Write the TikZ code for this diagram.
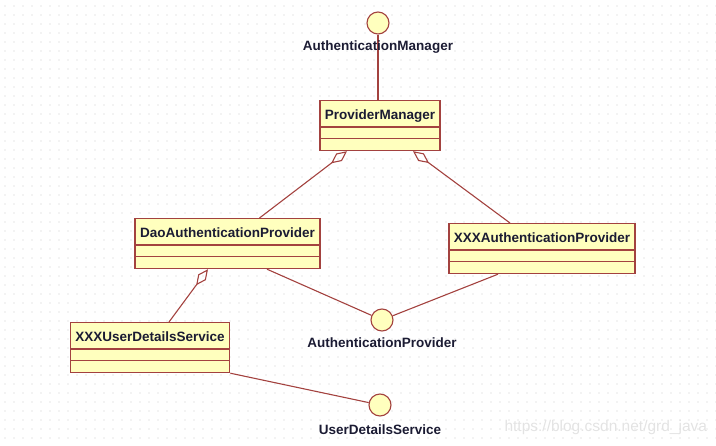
\documentclass[tikz,border=0pt]{standalone}
\usepackage{fontspec}
\setmainfont{Liberation Sans}
\usetikzlibrary{arrows.meta,shapes.multipart,positioning}
\definecolor{umlrot}{HTML}{A3423F}
\definecolor{umlgelb}{HTML}{FFFFBE}
\definecolor{umltext}{HTML}{1B1B33}
\definecolor{rasterpunkt}{HTML}{CACACA}
\newcommand{\klassenname}[1]{\rule[-7pt]{0pt}{25pt}#1\nodepart{two}\rule{0pt}{10.5pt}\nodepart{three}\rule{0pt}{10.5pt}}
\tikzset{
	klasse/.style={rectangle split, rectangle split parts=3, draw=umlrot, line width=1.3pt, fill=umlgelb, inner xsep=5pt, inner ysep=0pt, text=umltext, font=\fontsize{13.5}{16}\selectfont\bfseries},
	schnittstelle/.style={circle, draw=umlrot, line width=1.1pt, fill=umlgelb, minimum size=22pt, inner sep=0pt},
	iname/.style={text=umltext, font=\fontsize{13.5}{16}\selectfont\bfseries},
	verbindung/.style={draw=umlrot, line width=1.1pt},
	aggregation/.style={verbindung, {Diamond[open, length=20pt, width=9.5pt]}-}
}
\begin{document}
\begin{tikzpicture}[x=1pt, y=-1pt]
\useasboundingbox (0,0) rectangle (716,446);
% Raster zeichnen
\foreach \x in {5,14,...,716}
	\foreach \y in {6,15,...,446}
		\fill[rasterpunkt] (\x,\y) circle (0.7);

% Schnittstellen
\node[schnittstelle] (am) at (378,23) {};
\node[schnittstelle] (ap) at (382,320) {};
\node[schnittstelle] (uds) at (380,405) {};

% Klassen zeichnen
\node[klasse, anchor=north] (pm) at (380,100) {\klassenname{ProviderManager}};
\node[klasse, anchor=north] (dao) at (227.5,218) {\klassenname{DaoAuthenticationProvider}};
\node[klasse, anchor=north] (xap) at (542,223) {\klassenname{XXXAuthenticationProvider}};
\node[klasse, anchor=north] (xuds) at (150,322) {\klassenname{XXXUserDetailsService}};

% Verbindungen
\draw[verbindung] (am) -- (am |- pm.north);
\draw[aggregation] ([xshift=-33pt]pm.south) -- ([xshift=32pt]dao.north);
\draw[aggregation] ([xshift=33pt]pm.south) -- ([xshift=-32pt]xap.north);
\draw[aggregation] ([xshift=-19.5pt]dao.south) -- ([xshift=19pt]xuds.north);
\draw[verbindung] ([xshift=39.5pt]dao.south) -- (ap);
\draw[verbindung] ([xshift=-44pt]xap.south) -- (ap);
\draw[verbindung] (xuds.south east) -- (uds);

% Namen der Schnittstellen
\node[iname] (amname) at (378,47) {AuthenticationManager};
\node[iname] (apname) at (382,343) {AuthenticationProvider};
\node[iname] (udsname) at (380,430) {UserDetailsService};

% Quelle
\node[anchor=west, text=gray!22, font=\fontsize{15.5}{18}\selectfont] (quelle) at (501,427) {https://blog.csdn.net/grd\_java};
\end{tikzpicture}
\end{document}
